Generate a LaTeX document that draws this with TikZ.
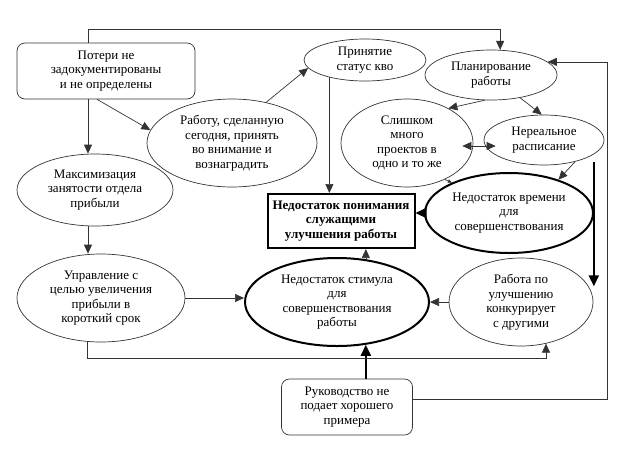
\documentclass[tikz,border=0pt]{standalone}
\usepackage{fontspec}
\setmainfont{Liberation Serif}
\usetikzlibrary{shapes.geometric,arrows.meta}
\begin{document}
\begin{tikzpicture}[x=1pt,y=-1pt,
  base/.style={draw=black!80, line width=0.7pt, align=center, inner sep=0pt, font=\fontsize{13}{14.5}\selectfont},
  ell/.style={base, ellipse},
  thk/.style={line width=2pt, draw=black},
  rbox/.style={base, rectangle, rounded corners=8pt},
  arr/.style={draw=black!80, line width=0.7pt, -{Triangle[length=9pt,width=8pt]}},
  darr/.style={draw=black!80, line width=0.7pt, {Triangle[length=9pt,width=8pt]}-{Triangle[length=9pt,width=8pt]}},
  sarr/.style={draw=black!80, line width=0.7pt, -{Triangle[length=4pt,width=3.5pt]}},
  tarr/.style={draw=black, line width=2.2pt, -{Triangle[length=11pt,width=10pt]}},
]
\useasboundingbox (0,0) rectangle (637,451);

\node[rbox, minimum width=178pt, minimum height=56pt] (pot) at (106,71) {Потери не\\задокументированы\\и не определены};
\node[ell, minimum width=170pt, minimum height=88pt] (rab) at (232,143) {Работу, сделанную\\сегодня, принять\\во внимание и\\вознаградить};
\node[ell, minimum width=122pt, minimum height=42pt] (prin) at (365,60) {Принятие\\статус кво};
\node[ell, minimum width=132pt, minimum height=50pt] (plan) at (491,75) {Планирование\\работы};
\node[ell, minimum width=132pt, minimum height=88pt] (sli) at (407,143) {Слишком\\много\\проектов в\\одно и то же};
\node[ell, minimum width=120pt, minimum height=50pt] (ner) at (544,140) {Нереальное\\расписание};
\node[ell, thk, minimum width=168pt, minimum height=80pt] (ned) at (509,213) {Недостаток времени\\для\\совершенствования};
\node[base, thk, rectangle, minimum width=147pt, minimum height=54pt, font=\fontsize{13}{14.5}\selectfont\bfseries] (und) at (341,221) {Недостаток понимания\\служащими\\улучшения работы};
\node[ell, minimum width=156pt, minimum height=72pt] (max) at (95,190) {Максимизация\\занятости отдела\\прибыли};
\node[ell, minimum width=168pt, minimum height=88pt] (upr) at (101,298) {Управление с\\целью увеличения\\прибыли в\\короткий срок};
\node[ell, thk, minimum width=184pt, minimum height=88pt] (stim) at (337,302) {Недостаток стимула\\для\\совершенствования\\работы};
\node[ell, minimum width=144pt, minimum height=88pt] (rab2) at (521,302) {Работа по\\улучшению\\конкурирует\\с другими};
\node[rbox, minimum width=131pt, minimum height=56pt] (ruk) at (347,407) {Руководство не\\подает хорошего\\примера};

\draw[arr] ([xshift=-18pt]pot.north) -- ++(0,-13) -| (plan.70);
\draw[arr] ([xshift=-18pt]pot.south) -- ([xshift=-18pt]pot.south |- max.north);
\draw[arr] ([xshift=-9pt]pot.south) -- (rab.171);
\draw[arr] (rab.50) -- (prin.188);
\draw[arr] (prin.206) -- (prin.206 |- und.north);
\draw[arr] (plan.256) -- (sli.40);
\draw[arr] (plan.322) -- (ner.95);
\draw[darr] ([xshift=-11pt,yshift=-3pt]sli.east) -- ([xshift=12pt,yshift=-6pt]ner.west);
\draw[arr] (ner.325) -- (ned.34);
\draw[sarr] (sli.316) -- (ned.152);
\draw[tarr] (ned.west) -- (ned.west -| und.east);
\draw[tarr] ([yshift=-8pt]ner.344) -- ++(0,124);
\draw[arr] ([yshift=8pt]ruk.east) -- ++(194,0) |- (plan.13);
\draw[tarr] (stim.304 |- ruk.north) -- (stim.304);
\draw[arr] (upr.253) -- ++(0,17) -| (rab2.301);
\draw[arr] (upr.east) -- (upr.east -| stim.west);
\draw[arr] (rab2.west) -- (rab2.west -| stim.east);
\draw[arr] (stim.56) -- (stim.56 |- und.south);
\draw[arr] ([xshift=-7pt]max.south) -- ([xshift=-7pt]max.south |- upr.north);
\end{tikzpicture}
\end{document}
